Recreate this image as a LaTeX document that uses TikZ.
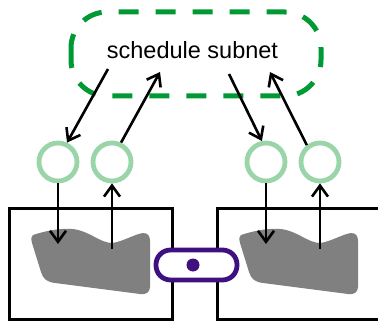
\documentclass[tikz,border=0pt]{standalone}
\usepackage{fontspec}
\setmainfont{Liberation Sans}
\usetikzlibrary{arrows.meta}
\definecolor{netgreen}{HTML}{009933}
\definecolor{placegreen}{HTML}{99D5A9}
\definecolor{linkpurple}{HTML}{3F1180}
\definecolor{blobgray}{HTML}{808080}
\tikzset{
  place/.style={circle, draw=placegreen, line width=4.8pt, minimum size=38pt, inner sep=0pt},
  flow/.style={line width=2.6pt, -{Straight Barb[length=11pt,width=16pt]}},
  peer/.style={draw=black, line width=3pt},
  region/.style={fill=blobgray, draw=none},
}
\begin{document}
\begin{tikzpicture}[x=1pt, y=-1pt]
\useasboundingbox (0,0) rectangle (378,321);

% schedule subnet
\draw[netgreen, line width=5pt, dash pattern=on 20pt off 17pt, rounded corners=36pt]
  (71,12) rectangle (321,96);
\node[anchor=base, font=\fontsize{23.5pt}{26pt}\selectfont] (subnet) at (192.5,59) {schedule subnet};
\coordinate (s1) at (108,69);
\coordinate (s2) at (160,72);
\coordinate (s3) at (229,74);
\coordinate (s4) at (270,72);

% the two peers
\draw[peer] (9,208) rectangle (172,319);
\draw[peer] (217,208) rectangle (400,319);

% their state regions
\foreach \dx in {0,208} {
  \path[region, xshift=\dx pt]
    (33,235) .. controls (45,231) and (60,228) .. (72,229)
    .. controls (88,230) and (100,243) .. (112,243)
    .. controls (122,242) and (135,234) .. (143,233)
    .. controls (148,233) and (150,236) .. (150,241)
    -- (150,287) .. controls (150,292) and (146,295) .. (140,294)
    -- (55,283) .. controls (47,282) and (43,279) .. (41,272)
    -- (32,243) .. controls (31,239) and (31,236) .. (33,235) -- cycle;
}
\coordinate (r1) at (58,244);
\coordinate (r2) at (112,249);
\coordinate (r3) at (266,244);
\coordinate (r4) at (320,249);

% interface places
\node[place] (c1) at (58,162) {};
\node[place] (c2) at (112,162) {};
\node[place] (c3) at (266,162) {};
\node[place] (c4) at (320,162) {};

% flows between subnet, places and peers
\draw[flow] (s1) -- (c1.65);
\draw[flow] (c2.65) -- (s2);
\draw[flow] (s3) -- (c3.101);
\draw[flow] (c4.128) -- (s4);
\draw[flow] (c1.south) -- (r1);
\draw[flow] (r2) -- (c2.south);
\draw[flow] (c3.south) -- (r3);
\draw[flow] (r4) -- (c4.south);

% link between the peers
\node[draw=linkpurple, fill=white, line width=4.8pt, rounded corners=14.5pt,
      minimum width=81pt, minimum height=30pt, inner sep=0pt] (link) at (196.5,265) {};
\fill[linkpurple] (193,265) circle (6.5pt);
\end{tikzpicture}
\end{document}
